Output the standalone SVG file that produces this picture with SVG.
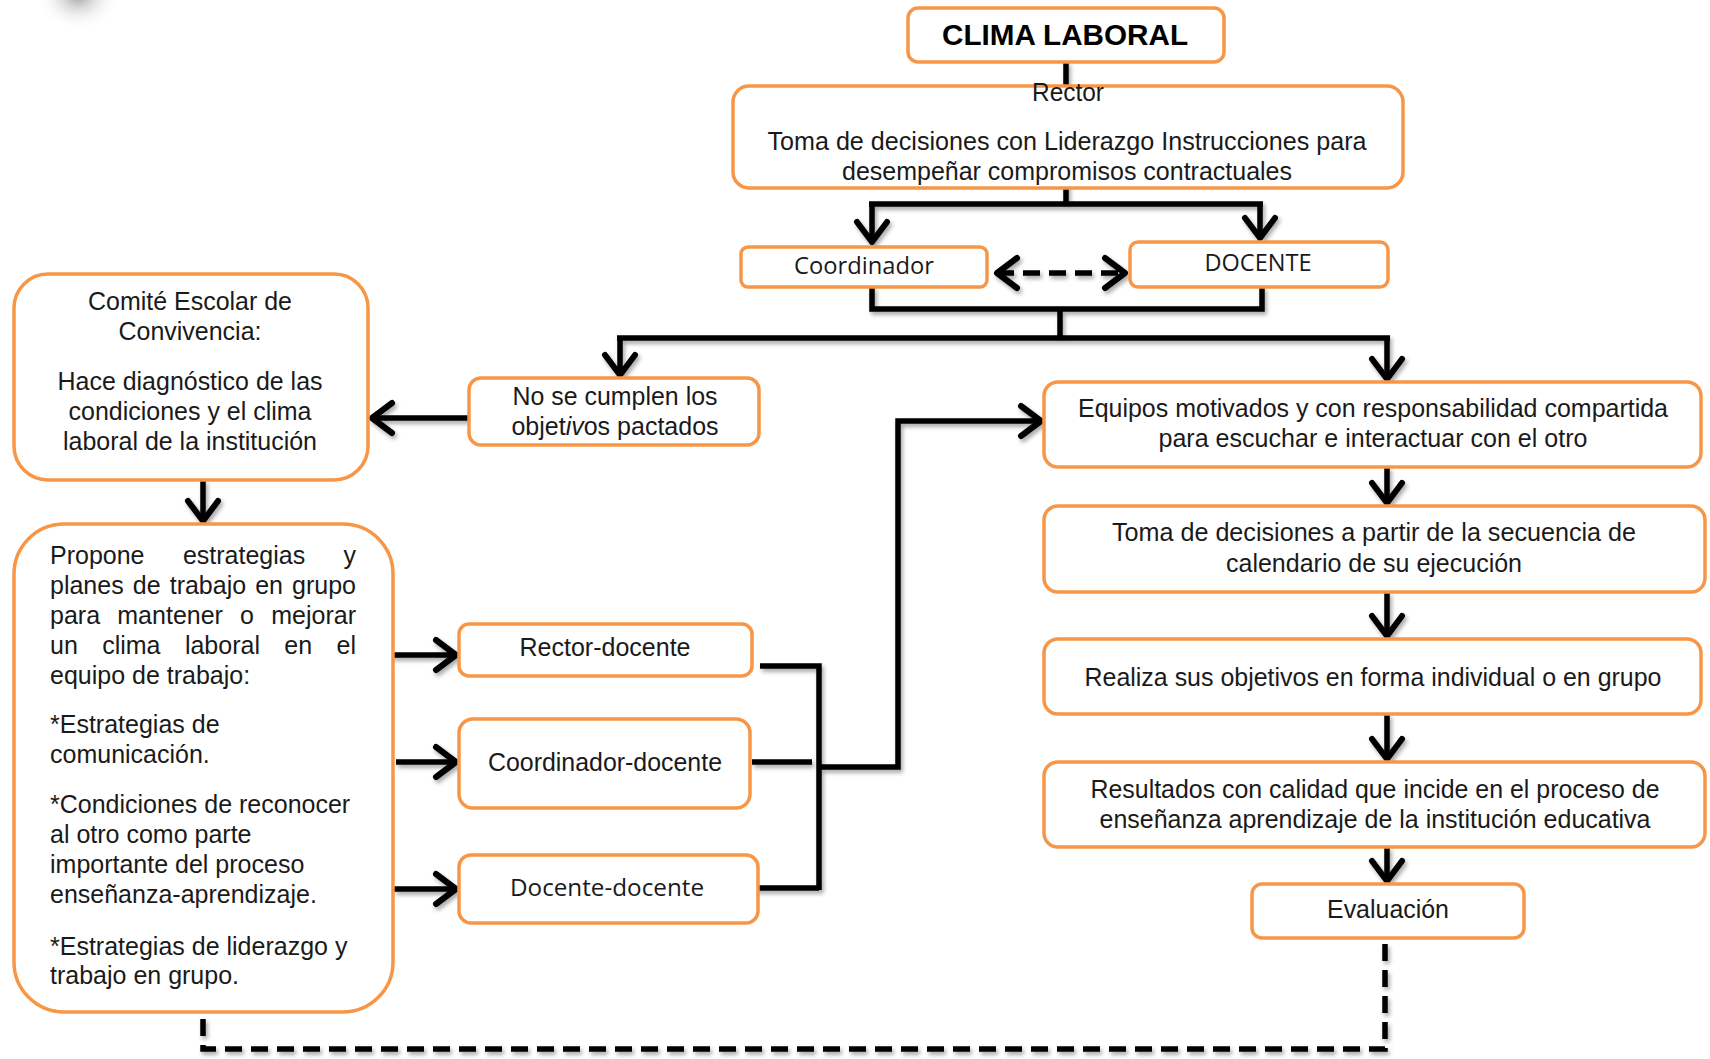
<svg xmlns="http://www.w3.org/2000/svg" width="1710" height="1059" viewBox="0 0 1710 1059">
<style>
.box{fill:#fff;stroke:#F79646;stroke-width:3.5}
.t{font-family:"Liberation Sans",Arial,sans-serif;font-size:25px;fill:#1a1a1a}
.c{text-anchor:middle}
.cal{font-family:"Open Sans","Liberation Sans",sans-serif;font-size:23px;fill:#1a1a1a;text-anchor:middle}
.ln{fill:none;stroke:#000;stroke-width:5.5;stroke-linejoin:miter}
.ar{marker-end:url(#arr)}
.dash{stroke-dasharray:17 9}
</style>
<defs>
<marker id="arr" markerUnits="userSpaceOnUse" viewBox="-30 -20 36 40" refX="0" refY="0" markerWidth="36" markerHeight="40" orient="auto-start-reverse" overflow="visible">
<path d="M-20,-15 L0,0 L-20,15" fill="none" stroke="#000" stroke-width="6" stroke-linecap="round" stroke-linejoin="round" stroke-dasharray="none"/>
</marker>
<filter id="sh" x="-10%" y="-10%" width="130%" height="130%">
<feDropShadow dx="2" dy="3" stdDeviation="2" flood-color="#000" flood-opacity="0.35"/>
</filter>
<radialGradient id="blob" cx="0.5" cy="0.5" r="0.5">
<stop offset="0" stop-color="#9a9a9a" stop-opacity="0.9"/>
<stop offset="1" stop-color="#ffffff" stop-opacity="0"/>
</radialGradient>
</defs>
<rect width="1710" height="1059" fill="#fff"/>
<ellipse cx="78" cy="-4" rx="42" ry="34" fill="url(#blob)"/>

<g id="connectors" filter="url(#sh)">
<path class="ln" d="M1066,62 V88"/>
<path class="ln" d="M1066,180 V204"/>
<path class="ln" d="M869,204 H1263"/>
<path class="ln ar" d="M872,204 V242"/>
<path class="ln ar" d="M1260,204 V238"/>
<path class="ln dash" d="M997,273 H1125" marker-start="url(#arr)" marker-end="url(#arr)"/>
<path class="ln" d="M872,287 V309 H1262 V287"/>
<path class="ln" d="M1060,309 V338"/>
<path class="ln" d="M617,338 H1390"/>
<path class="ln ar" d="M620,338 V375"/>
<path class="ln ar" d="M1387,338 V379"/>
<path class="ln ar" d="M469,418 H372"/>
<path class="ln ar" d="M203,480 V521"/>
<path class="ln ar" d="M391,655 H456"/>
<path class="ln ar" d="M396,762 H456"/>
<path class="ln ar" d="M394,889 H456"/>
<path class="ln" d="M760,666 H819 V890"/>
<path class="ln" d="M752,762 H812"/>
<path class="ln" d="M752,888 H819"/>
<path class="ln ar" d="M819,767 H898 V421 H1041"/>
<path class="ln ar" d="M1387,467 V503"/>
<path class="ln ar" d="M1387,592 V636"/>
<path class="ln ar" d="M1387,714 V759"/>
<path class="ln ar" d="M1387,847 V881"/>
<path class="ln dash" d="M1385,944 V1049 H203 V1014"/>
</g>

<g id="clima">
<rect class="box" x="908" y="8" width="316" height="54" rx="10"/>
<text x="1065" y="45" font-family="Liberation Sans,Arial,sans-serif" font-size="29" font-weight="bold" text-anchor="middle" textLength="246" lengthAdjust="spacingAndGlyphs">CLIMA LABORAL</text>
</g>

<g id="rector">
<rect class="box" x="733" y="86" width="670" height="102" rx="16"/>
<text class="t c" x="1068" y="101" textLength="72" lengthAdjust="spacingAndGlyphs">Rector</text>
<text class="t c" x="1067" y="150" textLength="599" lengthAdjust="spacingAndGlyphs">Toma de decisiones con Liderazgo Instrucciones para</text>
<text class="t c" x="1067" y="180" textLength="450" lengthAdjust="spacingAndGlyphs">desempeñar compromisos contractuales</text>
</g>

<g id="coordinador">
<rect class="box" x="741" y="247" width="246" height="40" rx="7"/>
<text class="cal" x="864" y="274" textLength="140" lengthAdjust="spacingAndGlyphs">Coordinador</text>
</g>

<g id="docente">
<rect class="box" x="1130" y="242" width="258" height="45" rx="8"/>
<text class="cal" x="1258" y="271" textLength="107" lengthAdjust="spacingAndGlyphs">DOCENTE</text>
</g>

<g id="comite">
<rect class="box" x="14" y="274" width="354" height="206" rx="34"/>
<text class="t c" x="190" y="310" textLength="204" lengthAdjust="spacingAndGlyphs">Comité Escolar de</text>
<text class="t c" x="190" y="340" textLength="143" lengthAdjust="spacingAndGlyphs">Convivencia:</text>
<text class="t c" x="190" y="390" textLength="265" lengthAdjust="spacingAndGlyphs">Hace diagnóstico de las</text>
<text class="t c" x="190" y="420" textLength="243" lengthAdjust="spacingAndGlyphs">condiciones y el clima</text>
<text class="t c" x="190" y="450" textLength="254" lengthAdjust="spacingAndGlyphs">laboral de la institución</text>
</g>

<g id="no-cumplen">
<rect class="box" x="469" y="378" width="290" height="67" rx="12"/>
<text class="t c" x="615" y="405" textLength="205" lengthAdjust="spacingAndGlyphs">No se cumplen los</text>
<text class="t c" x="615" y="435">objet<tspan font-style="italic">iv</tspan>os pactados</text>
</g>

<g id="propone">
<rect class="box" x="14" y="524" width="379" height="488" rx="50"/>
<text class="t" y="564"><tspan x="50">Propone</tspan><tspan x="182.9">estrategias</tspan></text>
<text class="t" x="356" y="564" text-anchor="end">y</text>
<text class="t" y="594"><tspan x="50">planes</tspan><tspan x="132.8">de</tspan><tspan x="169.7">trabajo</tspan><tspan x="255.2">en</tspan></text>
<text class="t" x="356" y="594" text-anchor="end">grupo</text>
<text class="t" y="624"><tspan x="50">para</tspan><tspan x="117.3">mantener</tspan><tspan x="240.1">o</tspan></text>
<text class="t" x="356" y="624" text-anchor="end">mejorar</text>
<text class="t" y="654"><tspan x="50">un</tspan><tspan x="102.2">clima</tspan><tspan x="184.9">laboral</tspan><tspan x="284.3">en</tspan></text>
<text class="t" x="356" y="654" text-anchor="end">el</text>
<text class="t" x="50" y="684">equipo de trabajo:</text>
<text class="t" x="50" y="733">*Estrategias de</text>
<text class="t" x="50" y="763">comunicación.</text>
<text class="t" x="50" y="813">*Condiciones de reconocer</text>
<text class="t" x="50" y="843">al otro como parte</text>
<text class="t" x="50" y="873">importante del proceso</text>
<text class="t" x="50" y="903">enseñanza-aprendizaje.</text>
<text class="t" x="50" y="955">*Estrategias de liderazgo y</text>
<text class="t" x="50" y="984">trabajo en grupo.</text>
</g>

<g id="rector-docente">
<rect class="box" x="459" y="624" width="293" height="52" rx="10"/>
<text class="t c" x="605" y="656" textLength="171" lengthAdjust="spacingAndGlyphs">Rector-docente</text>
</g>

<g id="coordinador-docente">
<rect class="box" x="459" y="719" width="291" height="89" rx="14"/>
<text class="t c" x="605" y="771" textLength="234" lengthAdjust="spacingAndGlyphs">Coordinador-docente</text>
</g>

<g id="docente-docente">
<rect class="box" x="459" y="855" width="299" height="68" rx="12"/>
<text class="cal" x="607" y="896" textLength="194" lengthAdjust="spacingAndGlyphs">Docente-docente</text>
</g>

<g id="equipos">
<rect class="box" x="1044" y="382" width="657" height="85" rx="14"/>
<text class="t c" x="1373" y="417" textLength="590" lengthAdjust="spacingAndGlyphs">Equipos motivados y con responsabilidad compartida</text>
<text class="t c" x="1373" y="447" textLength="429" lengthAdjust="spacingAndGlyphs">para escuchar e interactuar con el otro</text>
</g>

<g id="toma-decisiones">
<rect class="box" x="1044" y="506" width="661" height="86" rx="14"/>
<text class="t c" x="1374" y="541" textLength="524" lengthAdjust="spacingAndGlyphs">Toma de decisiones a partir de la secuencia de</text>
<text class="t c" x="1374" y="572" textLength="296" lengthAdjust="spacingAndGlyphs">calendario de su ejecución</text>
</g>

<g id="realiza">
<rect class="box" x="1044" y="639" width="657" height="75" rx="14"/>
<text class="t c" x="1373" y="686" textLength="577" lengthAdjust="spacingAndGlyphs">Realiza sus objetivos en forma individual o en grupo</text>
</g>

<g id="resultados">
<rect class="box" x="1044" y="762" width="661" height="85" rx="14"/>
<text class="t c" x="1375" y="798" textLength="569" lengthAdjust="spacingAndGlyphs">Resultados con calidad que incide en el proceso de</text>
<text class="t c" x="1375" y="828" textLength="551" lengthAdjust="spacingAndGlyphs">enseñanza aprendizaje de la institución educativa</text>
</g>

<g id="evaluacion">
<rect class="box" x="1252" y="884" width="272" height="54" rx="10"/>
<text class="t c" x="1388" y="918" textLength="122" lengthAdjust="spacingAndGlyphs">Evaluación</text>
</g>
</svg>
